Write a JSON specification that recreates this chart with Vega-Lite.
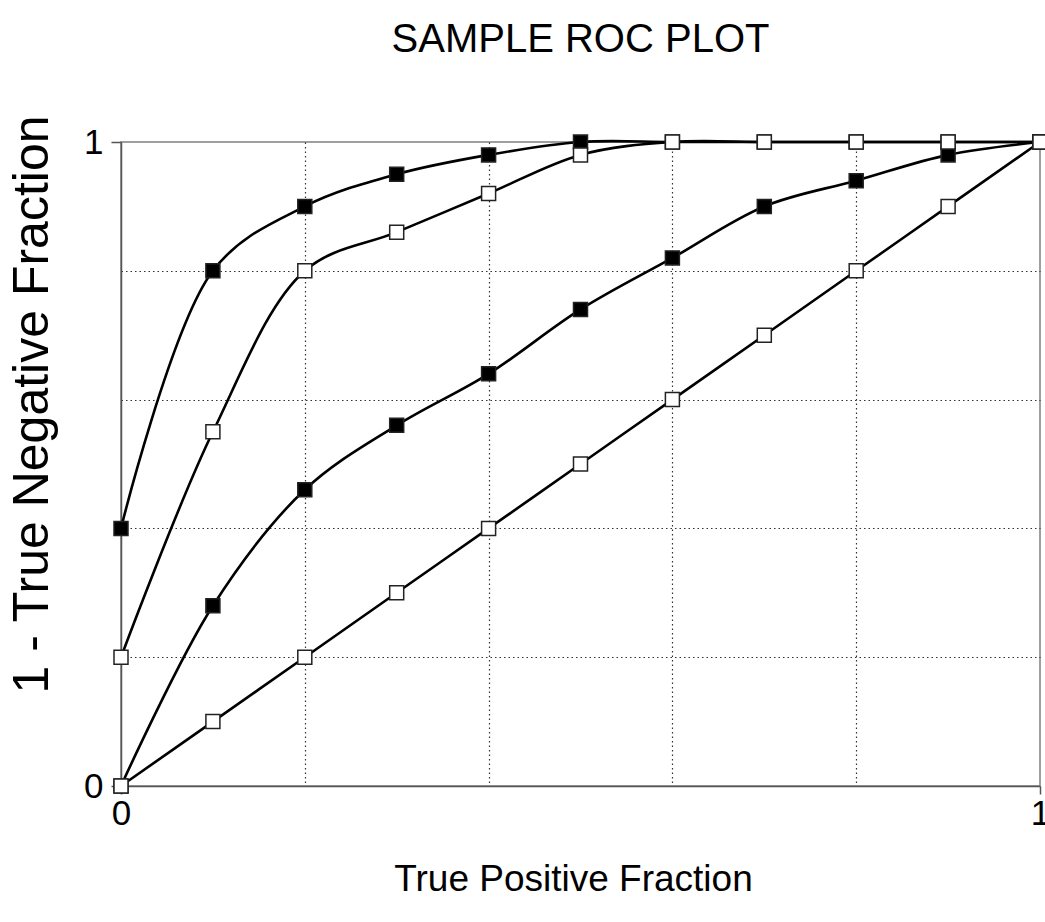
{
  "$schema": "https://vega.github.io/schema/vega-lite/v6.json",
  "autosize": "none",
  "width": 919,
  "height": 644,
  "padding": {"left": 121, "top": 142, "right": 5, "bottom": 136},
  "background": "white",
  "title": {
    "text": "SAMPLE ROC PLOT",
    "font": "Liberation Sans",
    "fontSize": 40,
    "fontWeight": "normal",
    "color": "black",
    "anchor": "middle",
    "baseline": "alphabetic",
    "offset": 23
  },
  "config": {
    "view": {"stroke": "#808080", "strokeWidth": 1.5},
    "axis": {
      "labelFont": "Liberation Sans",
      "titleFont": "Liberation Sans",
      "labelColor": "black",
      "titleColor": "black",
      "titleFontWeight": "normal",
      "domainColor": "#555555",
      "domainWidth": 1.5,
      "tickColor": "#555555",
      "tickWidth": 1.5
    }
  },
  "data": {
    "values": [
      {"series": "A", "fpr": 0.0, "tpr": 0.4},
      {"series": "A", "fpr": 0.1, "tpr": 0.8},
      {"series": "A", "fpr": 0.2, "tpr": 0.9},
      {"series": "A", "fpr": 0.3, "tpr": 0.95},
      {"series": "A", "fpr": 0.4, "tpr": 0.98},
      {"series": "A", "fpr": 0.5, "tpr": 1.0},
      {"series": "A", "fpr": 0.6, "tpr": 1.0},
      {"series": "A", "fpr": 0.7, "tpr": 1.0},
      {"series": "A", "fpr": 0.8, "tpr": 1.0},
      {"series": "A", "fpr": 0.9, "tpr": 1.0},
      {"series": "A", "fpr": 1.0, "tpr": 1.0},
      {"series": "C", "fpr": 0.0, "tpr": 0.0},
      {"series": "C", "fpr": 0.1, "tpr": 0.28},
      {"series": "C", "fpr": 0.2, "tpr": 0.46},
      {"series": "C", "fpr": 0.3, "tpr": 0.56},
      {"series": "C", "fpr": 0.4, "tpr": 0.64},
      {"series": "C", "fpr": 0.5, "tpr": 0.74},
      {"series": "C", "fpr": 0.6, "tpr": 0.82},
      {"series": "C", "fpr": 0.7, "tpr": 0.9},
      {"series": "C", "fpr": 0.8, "tpr": 0.94},
      {"series": "C", "fpr": 0.9, "tpr": 0.98},
      {"series": "C", "fpr": 1.0, "tpr": 1.0},
      {"series": "B", "fpr": 0.0, "tpr": 0.2},
      {"series": "B", "fpr": 0.1, "tpr": 0.55},
      {"series": "B", "fpr": 0.2, "tpr": 0.8},
      {"series": "B", "fpr": 0.3, "tpr": 0.86},
      {"series": "B", "fpr": 0.4, "tpr": 0.92},
      {"series": "B", "fpr": 0.5, "tpr": 0.98},
      {"series": "B", "fpr": 0.6, "tpr": 1.0},
      {"series": "B", "fpr": 0.7, "tpr": 1.0},
      {"series": "B", "fpr": 0.8, "tpr": 1.0},
      {"series": "B", "fpr": 0.9, "tpr": 1.0},
      {"series": "B", "fpr": 1.0, "tpr": 1.0},
      {"series": "D", "fpr": 0.0, "tpr": 0.0},
      {"series": "D", "fpr": 0.1, "tpr": 0.1},
      {"series": "D", "fpr": 0.2, "tpr": 0.2},
      {"series": "D", "fpr": 0.3, "tpr": 0.3},
      {"series": "D", "fpr": 0.4, "tpr": 0.4},
      {"series": "D", "fpr": 0.5, "tpr": 0.5},
      {"series": "D", "fpr": 0.6, "tpr": 0.6},
      {"series": "D", "fpr": 0.7, "tpr": 0.7},
      {"series": "D", "fpr": 0.8, "tpr": 0.8},
      {"series": "D", "fpr": 0.9, "tpr": 0.9},
      {"series": "D", "fpr": 1.0, "tpr": 1.0}
    ]
  },
  "encoding": {
    "x": {
      "field": "fpr",
      "type": "quantitative",
      "scale": {"domain": [0, 1], "nice": false},
      "axis": {
        "title": "True Positive Fraction",
        "titleFontSize": 37,
        "titleBaseline": "alphabetic",
        "titleY": 104,
        "titleX": 452,
        "values": [0, 0.2, 0.4, 0.6, 0.8, 1],
        "labelExpr": "datum.value == 0 || datum.value == 1 ? datum.value : ''",
        "labelFontSize": 35,
        "labelPadding": 2,
        "labelFlush": false,
        "tickSize": 8,
        "tickOpacity": {"condition": {"test": "datum.value == 0 || datum.value == 1", "value": 1}, "value": 0},
        "grid": true,
        "gridColor": "#333333",
        "gridDash": [1.5, 3],
        "gridWidth": 1.2,
        "gridOpacity": {"condition": {"test": "datum.value == 0 || datum.value == 1", "value": 0}, "value": 1}
      }
    },
    "y": {
      "field": "tpr",
      "type": "quantitative",
      "scale": {"domain": [0, 1], "nice": false},
      "axis": {
        "title": "1 - True Negative Fraction",
        "titleFontSize": 50,
        "titleAngle": -90,
        "titleBaseline": "alphabetic",
        "titleAlign": "center",
        "titleX": -74,
        "titleY": 262,
        "values": [0, 0.2, 0.4, 0.6, 0.8, 1],
        "labelExpr": "datum.value == 0 || datum.value == 1 ? datum.value : ''",
        "labelFontSize": 35,
        "labelPadding": 8,
        "labelFlush": false,
        "tickSize": 10,
        "tickOpacity": {"condition": {"test": "datum.value == 0 || datum.value == 1", "value": 1}, "value": 0},
        "grid": true,
        "gridColor": "#333333",
        "gridDash": [1.5, 3],
        "gridWidth": 1.2,
        "gridOpacity": {"condition": {"test": "datum.value == 0 || datum.value == 1", "value": 0}, "value": 1}
      }
    }
  },
  "layer": [
    {
      "mark": {"type": "line", "interpolate": "catmull-rom", "color": "black", "strokeWidth": 2.6},
      "encoding": {"detail": {"field": "series"}}
    },
    {
      "mark": {"type": "point", "shape": "square", "size": 196, "filled": true, "stroke": "#222222", "strokeWidth": 1.5, "opacity": 1},
      "encoding": {
        "fill": {
          "field": "series",
          "type": "nominal",
          "scale": {"domain": ["A", "B", "C", "D"], "range": ["black", "white", "black", "white"]},
          "legend": null
        }
      }
    }
  ]
}
